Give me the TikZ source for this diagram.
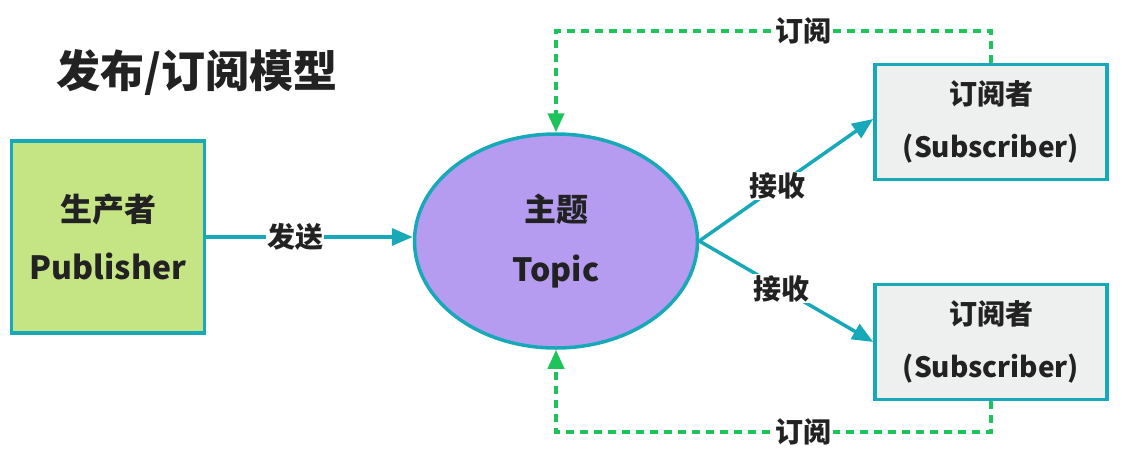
\documentclass[tikz,border=0pt]{standalone}
\usepackage{fontspec}
\setmainfont{Noto Sans CJK SC}
\usetikzlibrary{arrows.meta,shapes.geometric}
\definecolor{cteal}{HTML}{17A9B9}
\definecolor{cgreen}{HTML}{1DC45A}
\definecolor{cpub}{HTML}{C5E585}
\definecolor{ctopic}{HTML}{B59CF0}
\definecolor{csub}{HTML}{EEF0EF}
\definecolor{ctext}{HTML}{222222}

\begin{document}
\begin{tikzpicture}[x=1pt,y=-1pt,
  box/.style={draw=cteal,line width=3.5pt,align=center,inner sep=0pt,text=ctext,
    font=\bfseries\fontsize{32}{58}\selectfont},
  send/.style={draw=cteal,line width=3.5pt,-{Triangle[length=21pt,width=17pt]}},
  sub/.style={draw=cgreen,line width=4pt,dash pattern=on 8pt off 6pt,
    -{Triangle[length=19pt,width=16pt]}},
  lbl/.style={fill=white,inner sep=1pt,text=ctext,font=\bfseries\fontsize{28}{32}\selectfont}]
  \useasboundingbox (0,0) rectangle (1122,464);
  \node[text=ctext,font=\bfseries\fontsize{44}{50}\selectfont] (title) at (197,73) {发布/订阅模型};
  \node[box,fill=cpub,minimum width=193pt,minimum height=192pt] (pub) at (108,237) {生产者\\Publisher};
  \node[box,ellipse,fill=ctopic,minimum width=283pt,minimum height=214pt,
    font=\bfseries\fontsize{32}{60}\selectfont] (topic) at (556,241) {主题\\Topic};
  \node[box,fill=csub,minimum width=232pt,minimum height=115pt,
    font=\bfseries\fontsize{28}{53}\selectfont] (s1) at (991,122) {订阅者\\(Subscriber)};
  \node[box,fill=csub,minimum width=232pt,minimum height=115pt,
    font=\bfseries\fontsize{28}{53}\selectfont] (s2) at (991,342) {订阅者\\(Subscriber)};
  \coordinate (t1) at (556,31);
  \coordinate (t2) at (556,432);
  % send and receive
  \draw[send] (pub.east) -- node[lbl,pos=0.43] {发送} (pub.east -| topic.west);
  \draw[send] (topic.east) -- node[lbl,pos=0.45] {接收} ([yshift=3pt]s1.west);
  \draw[send] (topic.east) -- node[lbl,pos=0.47] {接收} (s2.west);
  % subscriptions
  \draw[sub] (s1.north) |- node[lbl,pos=0.715] {订阅} (t1) -- (topic.north);
  \draw[sub] (s2.south) |- node[lbl,pos=0.715] {订阅} (t2) -- (topic.south);
\end{tikzpicture}
\end{document}
